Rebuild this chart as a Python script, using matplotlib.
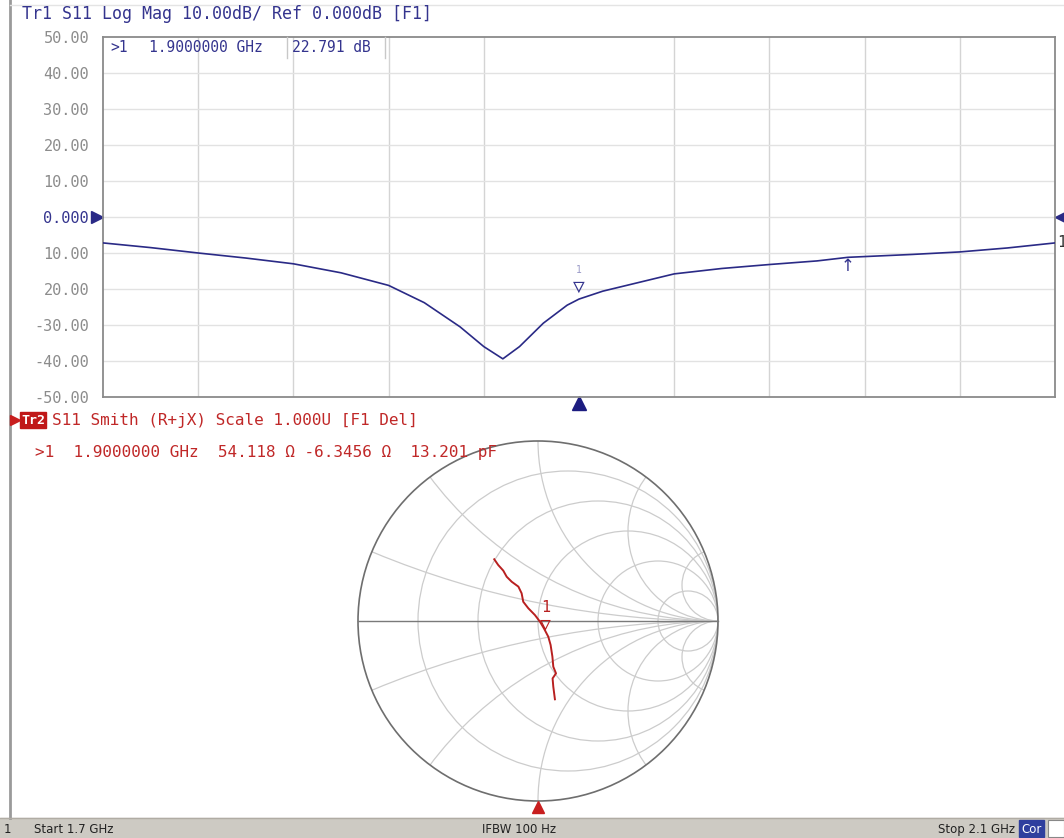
import numpy as np
import matplotlib
matplotlib.use("Agg")
import matplotlib.pyplot as plt
from matplotlib.patches import Circle, Rectangle

# ── Trace 1: S11 log magnitude ──
freq_ghz = [1.700, 1.720, 1.740, 1.760, 1.780, 1.800, 1.820, 1.835, 1.850, 1.860,
            1.868, 1.875, 1.885, 1.895, 1.900, 1.910, 1.925, 1.940, 1.960, 1.980,
            2.000, 2.013, 2.040, 2.060, 2.080, 2.100]
s11_db = [-7.2, -8.5, -10.0, -11.4, -13.0, -15.5, -19.0, -23.8, -30.5, -36.0,
          -39.4, -36.0, -29.5, -24.5, -22.8, -20.6, -18.2, -15.8, -14.3, -13.2,
          -12.2, -11.2, -10.4, -9.7, -8.6, -7.2]
y_ticks = [-50, -40, -30, -20, -10, 0, 10, 20, 30, 40, 50]
y_labels = ["-50.00", "-40.00", "-30.00", "20.00", "10.00", "0.000",
            "10.00", "20.00", "30.00", "40.00", "50.00"]
x_grid = [1.74, 1.78, 1.82, 1.86, 1.94, 1.98, 2.02, 2.06]
mkr_freq = 1.90
mkr_db = -22.791
ref_freq = 2.013

# ── Trace 2: S11 Smith (reflection coefficient) ──
gamma_re = [-0.243, -0.221, -0.193, -0.174, -0.146, -0.109, -0.091, -0.082, -0.054, -0.017,
            0.011, 0.033, 0.057, 0.070, 0.080, 0.085, 0.100, 0.081, 0.085, 0.094]
gamma_im = [0.343, 0.311, 0.280, 0.246, 0.218, 0.191, 0.154, 0.107, 0.071, 0.033,
            -0.004, -0.041, -0.087, -0.133, -0.198, -0.254, -0.291, -0.319, -0.365, -0.435]
mkr_r, mkr_x = 54.118, -6.3456
z0 = 50.0
r_circles = [0.2, 0.5, 1, 2, 5]
x_arcs = [0.2, 0.5, 1, 2, 5]

BLUE = '#34348e'
TRACE_BLUE = '#2a2a86'
RED = '#c02828'
GRID = '#d4d4d4'
MONO = ['DejaVu Sans Mono', 'DejaVu Sans']

W, H = 1064, 838
fig = plt.figure(figsize=(W / 100, H / 100), dpi=100)
fig.patch.set_facecolor('white')

def fig_rect(x0, y0, x1, y1):
    return [x0 / W, 1 - y1 / H, (x1 - x0) / W, (y1 - y0) / H]

# ══════════════════════════════════════════
# TOP PANEL — Log Mag
# ══════════════════════════════════════════
ax = fig.add_axes(fig_rect(103, 37, 1055, 397))
ax.set_xlim(1.7, 2.1)
ax.set_ylim(-50, 50)
for xg in x_grid:
    ax.axvline(xg, color=GRID, lw=1.0, zorder=0)
for yg in range(-40, 50, 10):
    ax.axhline(yg, color='#e2e2e2', lw=1.0, zorder=0)
ax.plot(freq_ghz, s11_db, color=TRACE_BLUE, lw=1.2, zorder=3)

ax.set_xticks([])
ax.set_yticks(y_ticks)
ax.set_yticklabels(y_labels, family=MONO, fontsize=11)
ax.tick_params(axis='y', length=0, pad=10)
for t, v in zip(ax.get_yticklabels(), y_ticks):
    t.set_color(BLUE if v == 0 else '#8c8c8c')
for s in ax.spines.values():
    s.set_color('#8a8a8a')
    s.set_linewidth(1.3)

# reference level arrows and trace number
ytr = ax.get_yaxis_transform()
ax.plot([-0.006], [0], marker='>', ms=8, color=TRACE_BLUE, transform=ytr, clip_on=False)
ax.plot([1.006], [0], marker='<', ms=8, color=TRACE_BLUE, transform=ytr, clip_on=False)
ax.text(1.002, s11_db[-1], '1', transform=ytr, family=MONO, fontsize=11,
        color='#333333', va='center', ha='left')

# marker 1 and reference marker
ax.annotate('\u25bd', (mkr_freq, mkr_db), xytext=(0, 2), textcoords='offset points',
            ha='center', va='bottom', fontsize=14, color=BLUE, family=MONO)
ax.annotate('1', (mkr_freq, mkr_db), xytext=(0, 17), textcoords='offset points',
            ha='center', va='bottom', fontsize=7, color='#9a9ac8', family=MONO)
ax.annotate('\u2191', (ref_freq, -11.2), xytext=(0, -13), textcoords='offset points',
            ha='center', va='bottom', fontsize=12, color=BLUE, family=['DejaVu Sans'])
xtr = ax.get_xaxis_transform()
ax.plot([mkr_freq], [-0.018], marker='^', ms=10, color='#1c1c80', transform=xtr, clip_on=False)

# ══════════════════════════════════════════
# BOTTOM PANEL — Smith chart
# ══════════════════════════════════════════
cx, cy, R = 538, 621, 180
lim = 190 / R
sx = fig.add_axes(fig_rect(cx - 190, cy - 190, cx + 190, cy + 190))
sx.set_xlim(-lim, lim)
sx.set_ylim(-lim, lim)
sx.set_aspect('equal')
sx.axis('off')

unit = Circle((0, 0), 1, transform=sx.transData, fill=False)
for r in r_circles:
    c = Circle((r / (1 + r), 0), 1 / (1 + r), fill=False, ec='#cccccc', lw=0.9)
    sx.add_patch(c)
    c.set_clip_path(unit)
for xv in x_arcs:
    for sgn in (1, -1):
        c = Circle((1, sgn / xv), 1 / xv, fill=False, ec='#cccccc', lw=0.9)
        sx.add_patch(c)
        c.set_clip_path(unit)
sx.add_patch(Circle((0, 0), 1, fill=False, ec='#6e6e6e', lw=1.2))
sx.plot([-1, 1], [0, 0], color='#7a7a7a', lw=1.0)

sx.plot(gamma_re, gamma_im, color='#b82020', lw=1.4, zorder=4)

zm = complex(mkr_r, mkr_x)
gm = (zm - z0) / (zm + z0)
sx.annotate('\u25bd', (gm.real, gm.imag), xytext=(0, -1), textcoords='offset points',
            ha='center', va='bottom', fontsize=13, color='#b82020', family=MONO)
sx.annotate('1', (gm.real, gm.imag), xytext=(0, 12), textcoords='offset points',
            ha='center', va='bottom', fontsize=11, color='#b82020', family=MONO)
sx.plot([0], [-1.035], marker='^', ms=9, color='#c81e1e', clip_on=False)

# ══════════════════════════════════════════
# OVERLAY — headers, readouts, status bar
# ══════════════════════════════════════════
ov = fig.add_axes([0, 0, 1, 1])
ov.set_xlim(0, W)
ov.set_ylim(H, 0)
ov.axis('off')

ov.plot([10, 10], [0, 818], color='#9a9a9a', lw=2.0)
ov.plot([10, W], [5, 5], color='#e4e4e4', lw=1.0)

ov.text(22, 14, 'Tr1 S11 Log Mag 10.00dB/ Ref 0.000dB [F1]', family=MONO,
        fontsize=12, color=BLUE, va='center', ha='left')
ov.text(110, 47, '>1', family=MONO, fontsize=10.5, color=BLUE, va='center')
ov.text(149, 47, '1.9000000 GHz', family=MONO, fontsize=10.5, color=BLUE, va='center')
ov.text(292, 47, '22.791 dB', family=MONO, fontsize=10.5, color=BLUE, va='center')
for xs in (287, 385):
    ov.plot([xs, xs], [37, 58], color='#c8c8c8', lw=1.0)

ov.plot([14.5], [420], marker='>', ms=7, color='#c81e1e')
ov.add_patch(Rectangle((20, 412), 26, 16, color='#c01818'))
ov.text(33, 420, 'Tr2', family=MONO, fontsize=9.5, color='white', ha='center',
        va='center', fontweight='bold')
ov.text(52, 420, 'S11 Smith (R+jX) Scale 1.000U [F1 Del]', family=MONO,
        fontsize=11.5, color=RED, va='center', ha='left')
ov.text(35, 452, '>1  1.9000000 GHz  54.118 \u03a9 -6.3456 \u03a9  13.201 pF',
        family=MONO, fontsize=11.5, color=RED, va='center', ha='left')

ov.add_patch(Rectangle((0, 818), W, 20, color='#cdcac3'))
ov.plot([0, W], [818, 818], color='#b0aca4', lw=1.0)
sb = dict(fontsize=8.5, color='#222222', va='center', family=['DejaVu Sans'])
ov.text(4, 829, '1', **sb)
ov.text(34, 829, 'Start 1.7 GHz', **sb)
ov.text(482, 829, 'IFBW 100 Hz', **sb)
ov.text(938, 829, 'Stop 2.1 GHz', **sb)
ov.add_patch(Rectangle((1019, 820), 25, 17, color='#2f3f9e'))
ov.text(1031.5, 829, 'Cor', fontsize=8.5, color='white', ha='center', va='center',
        family=['DejaVu Sans'])
ov.add_patch(Rectangle((1048, 820), 16, 17, facecolor='white', edgecolor='#888888', lw=0.8))

fig.savefig('out.png', dpi=100)
